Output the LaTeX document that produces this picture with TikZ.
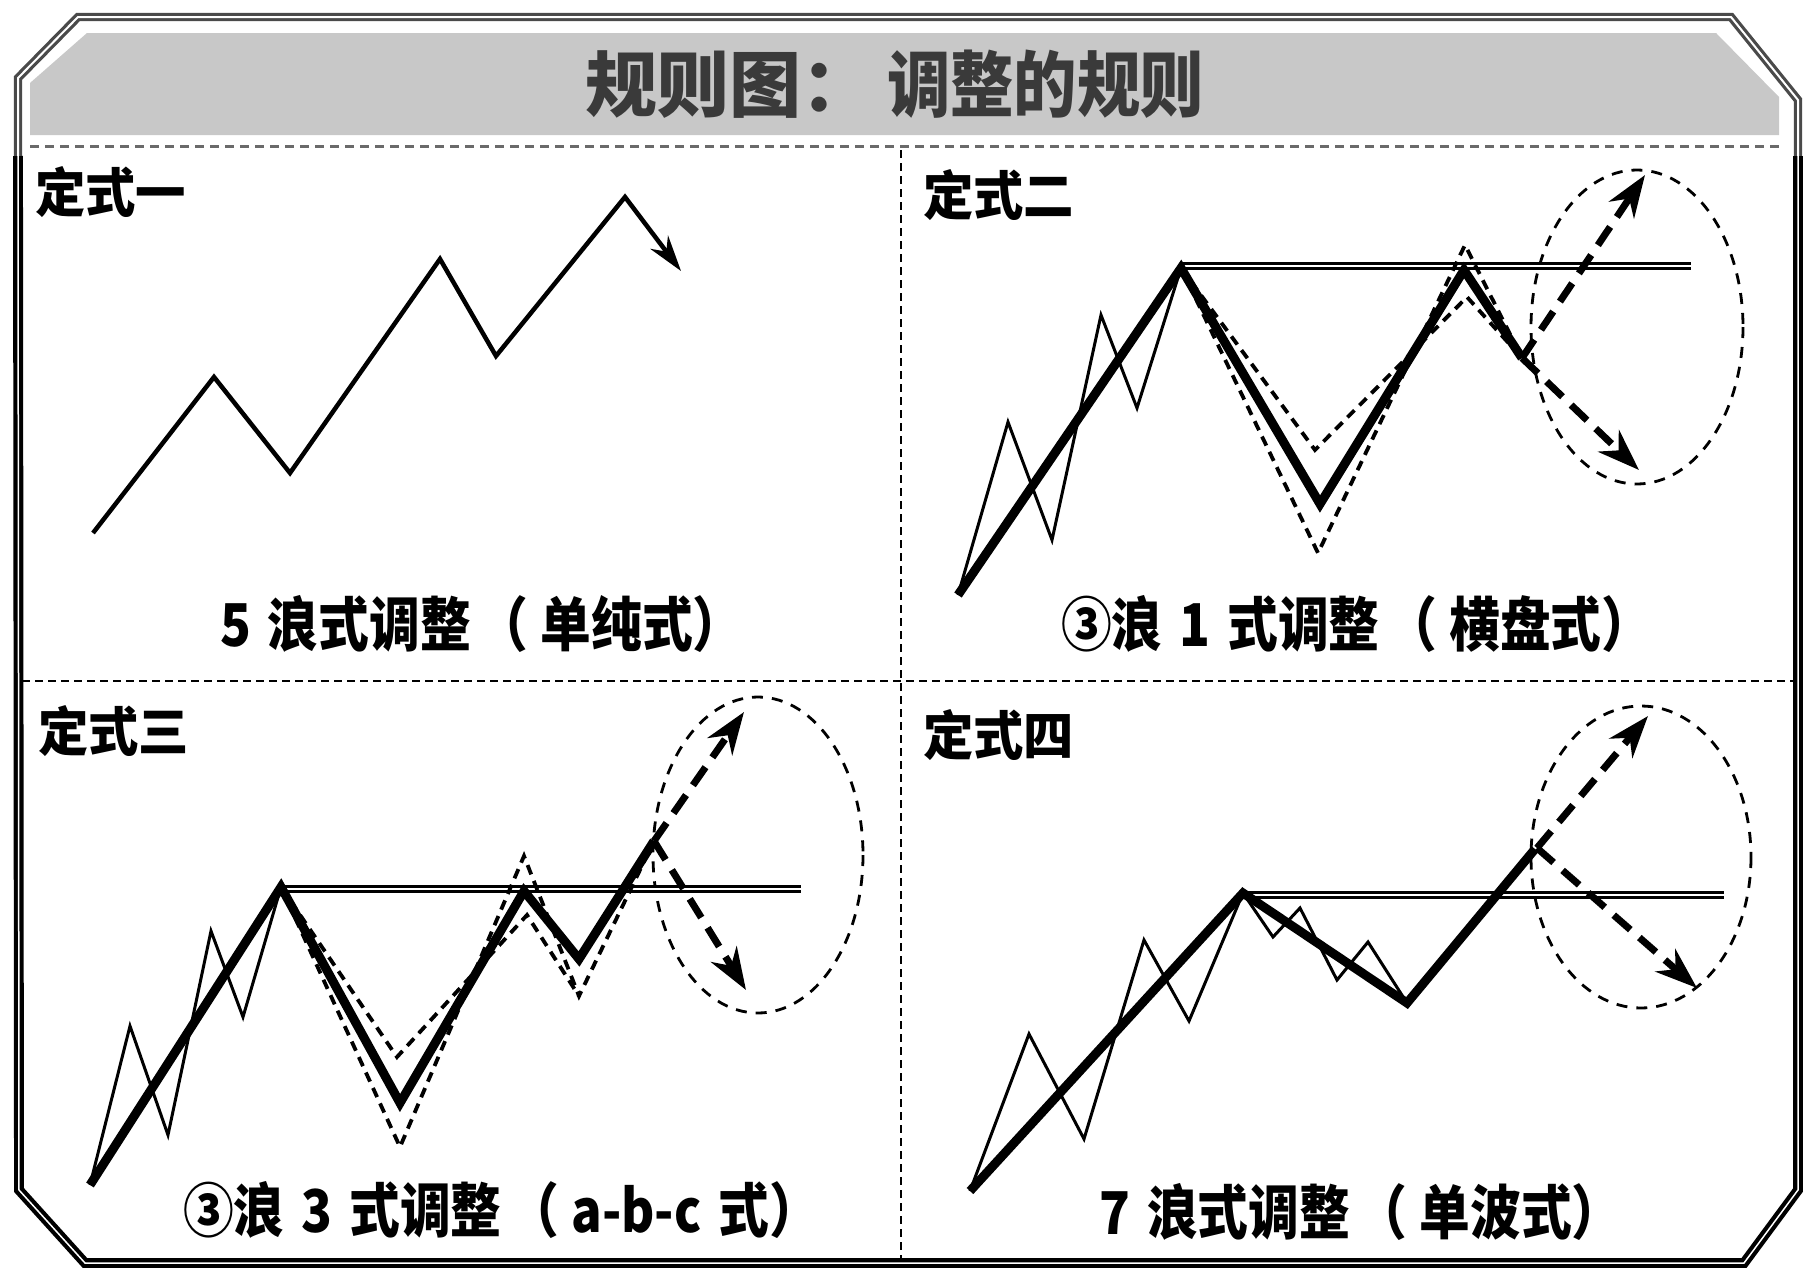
\documentclass[tikz,border=0pt]{standalone}
\usepackage{fontspec}
\usepackage{graphicx}
\setmainfont{Noto Sans CJK SC}
\usetikzlibrary{arrows.meta}
\definecolor{bandgray}{HTML}{C8C8C8}
\definecolor{titlegray}{HTML}{3A3A3A}
\definecolor{framegray}{HTML}{4A4A4A}
\definecolor{dashgray}{HTML}{6A6A6A}
\newcommand{\captext}[1]{\scalebox{0.86}[1]{#1}}
\newcommand{\labtext}[1]{\scalebox{0.95}[1]{#1}}
\newcommand{\lparen}{\hspace{8pt}（\hspace{14pt}}
\begin{document}
\begin{tikzpicture}[x=1pt,y=-1pt,
  thinw/.style={line width=3pt,line join=miter},
  thickw/.style={line width=9pt,line join=miter},
  dashw/.style={line width=3.8pt,dash pattern=on 10pt off 7pt},
  ellw/.style={line width=2.8pt,dash pattern=on 11pt off 9pt},
  arrw/.style={line width=7pt,dash pattern=on 22pt off 12pt,-{Stealth[length=42pt,width=30pt]}},
  dblw/.style={draw=black,line width=3.2pt,double=white,double distance=2.5pt},
  divw/.style={line width=2.5pt,dash pattern=on 8pt off 5pt},
  labtxt/.style={anchor=west,inner sep=0pt,font=\fontsize{53}{53}\selectfont\bfseries},
  captxt/.style={anchor=west,inner sep=0pt,font=\fontsize{59}{59}\selectfont\bfseries},
]
\fill[white] (0,0) rectangle (1816,1280);
\useasboundingbox (0,0) rectangle (1816,1280);

% header band
\fill[bandgray] (30,83) -- (87,33) -- (1716,33) -- (1779,97) -- (1779,135) -- (30,135) -- cycle;
\node[anchor=west,inner sep=0pt,text=titlegray,font=\fontsize{72}{72}\selectfont\bfseries] (title) at (585,84)
  {规则图：\hspace{14pt}\scalebox{0.88}[1]{调整的规则}};
\draw[dashgray,line width=3pt,dash pattern=on 9pt off 6pt] (30,146) -- (1779,146);

% outer frame
\draw[draw=framegray,line width=3.2pt,double=white,double distance=2pt,line join=miter]
  (18,156) -- (18,78) -- (78,17) -- (1731,17) -- (1798,100) -- (1798,156);
\draw[draw=black,line width=4.2pt,double=white,double distance=1.5pt,line join=miter]
  (1798,156) -- (1798,1190) -- (1744,1263) -- (85,1263) -- (19,1190) -- (18,156);

% dividers
\draw[divw] (901,150) -- (901,1258);
\draw[divw] (22,681) -- (1795,681);

% panel 1
\node[labtxt] (l1) at (35,192) {\labtext{定式一}};
\draw[line width=4.5pt,line join=miter,-{Stealth[length=36pt,width=22pt]}]
  (93,533) -- (214,377) -- (290,473) -- (440,259) -- (496,356) -- (625,197) -- (681,271);
\node[captxt] (c1) at (220,624) {\captext{5\,\,浪式调整\lparen 单纯式）}};

% panel 2
\node[labtxt] (l2) at (923,195) {\labtext{定式二}};
\draw[ellw] (1637,327) ellipse [x radius=106, y radius=157];
\draw[dblw] (1181,266) -- (1691,266);
\draw[thinw] (958,595) -- (1008,422) -- (1052,540) -- (1101,315) -- (1137,408) -- (1181,268);
\draw[dashw] (1181,268) -- (1318,553) -- (1465,245) -- (1522,358);
\draw[dashw] (1181,268) -- (1315,450) -- (1467,297) -- (1522,358);
\draw[thickw] (958,595) -- (1181,268) -- (1320,504) -- (1464,270) -- (1522,358);
\draw[arrw] (1522,358) -- (1645,175);
\draw[arrw] (1522,358) -- (1639,470);
\node[captxt] (c2) at (1061,624) {\captext{③浪\,\,1\,\,式调整\lparen 横盘式）}};

% panel 3
\node[labtxt] (l3) at (38,731) {\labtext{定式三}};
\draw[ellw] (758,855) ellipse [x radius=105, y radius=158];
\draw[dblw] (281,889) -- (801,889);
\draw[thinw] (90,1185) -- (130,1026) -- (168,1135) -- (211,931) -- (243,1017) -- (281,887);
\draw[dashw] (281,887) -- (400,1147) -- (524,856) -- (579,996) -- (654,841);
\draw[dashw] (281,887) -- (397,1057) -- (527,915) -- (579,996);
\draw[thickw] (90,1185) -- (281,887) -- (400,1103) -- (524,891) -- (579,959) -- (654,841);
\draw[arrw] (654,841) -- (744,712);
\draw[arrw] (654,841) -- (746,990);
\node[captxt] (c3) at (183,1210) {\captext{③浪\,\,3\,\,式调整\lparen a-b-c\,\,式）}};

% panel 4
\node[labtxt] (l4) at (923,735) {\labtext{定式四}};
\draw[ellw] (1641,857) ellipse [x radius=110, y radius=151];
\draw[dblw] (1245,895) -- (1724,895);
\draw[thinw] (970,1191) -- (1029,1034) -- (1084,1139) -- (1144,940) -- (1189,1021) -- (1243,893)
  -- (1273,937) -- (1300,908) -- (1337,980) -- (1368,942) -- (1407,1003);
\draw[thickw] (970,1191) -- (1243,893) -- (1407,1003) -- (1535,849);
\draw[arrw] (1537,848) -- (1648,716);
\draw[arrw] (1537,848) -- (1697,988);
\node[captxt] (c4) at (1099,1212) {\captext{7\,\,浪式调整\lparen 单波式）}};
\end{tikzpicture}
\end{document}
